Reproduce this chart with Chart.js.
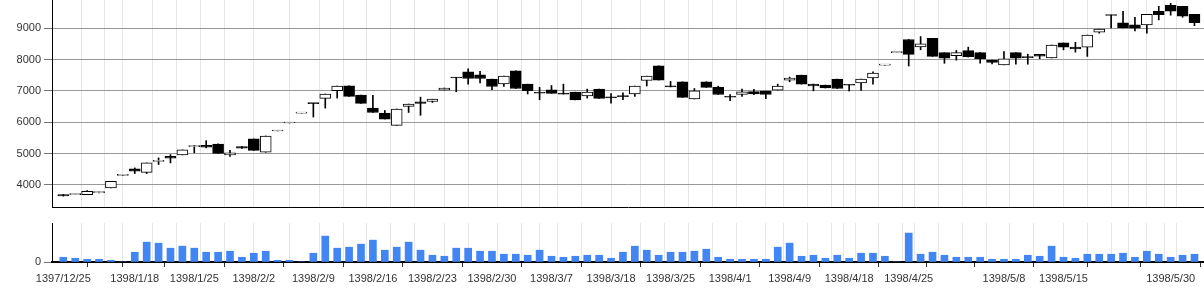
<!DOCTYPE html>
<html>
<head>
<meta charset="utf-8">
<script src="https://cdn.jsdelivr.net/npm/chart.js@4.4.1/dist/chart.umd.min.js"></script>
<style>
html, body { margin: 0; padding: 0; background: #fff; }
#wrap { position: relative; width: 1204px; height: 301px; overflow: hidden; }
#priceBox { position: absolute; left: 0; top: 0; width: 1204px; height: 212px; }
#volBox { position: absolute; left: 0; top: 212px; width: 1204px; height: 89px; }
</style>
</head>
<body>
<div id="wrap">
  <div id="priceBox"><canvas id="priceChart"></canvas></div>
  <div id="volBox"><canvas id="volChart"></canvas></div>
</div>
<script>
// daily candles, one per trading day (index 0 = 1397/12/25)
const opens = [3690,3690,3690,3750,3905,4300,4510,4400,4750,4910, 4955,5220,5260,5305,4955,5220,5465,5040,5720,5975,
  6290,6600,6760,7005,7160,6865,6450,6290,5900,6505, 6650,6665,7025,7430,7610,7510,7375,7220,7640,7215,
  6935,7035,6905,6960,6835,7055,6785,6830,6900,7330, 7800,7160,7290,6740,7290,7120,6805,6886,6980,6995,
  7025,7345,7500,7215,7185,7375,7190,7250,7410,7820, 8220,8640,8400,8675,8220,8125,8285,8220,7980,7825,
  8220,8070,8165,8050,8530,8395,8395,8875,9415,9170, 9105,9105,9540,9730,9700,9445];
const highs = [3695,3690,3820,3770,4115,4300,4540,4700,4860,4965, 5115,5260,5410,5310,5100,5225,5465,5560,5720,5975,
  6290,6600,6900,7155,7160,6865,6855,6375,6420,6580, 6800,6735,7090,7430,7705,7620,7375,7470,7640,7215,
  7110,7170,7215,6960,7055,7055,6910,6940,7150,7470, 7800,7300,7290,7075,7290,7150,6885,7055,7045,6995,
  7215,7440,7500,7215,7185,7375,7190,7375,7610,7820, 8220,8640,8735,8675,8220,8290,8395,8220,7980,8250,
  8220,8170,8165,8465,8530,8550,8780,8970,9415,9535, 9350,9445,9700,9795,9700,9445];
const lows = [3640,3690,3690,3740,3905,4300,4360,4360,4650,4700, 4955,5020,5180,5000,4910,5165,5100,5040,5720,5975,
  6290,6165,6450,6770,6825,6600,6310,6100,5900,6310, 6220,6630,7025,6970,7215,7250,7035,7140,7075,6900,
  6715,6920,6895,6710,6770,6760,6610,6715,6820,7155, 7345,7125,6790,6740,7110,6885,6685,6820,6875,6750,
  7025,7290,7215,7000,7090,7075,6995,7015,7215,7820, 8220,7795,8310,8100,7880,7980,8080,7880,7860,7825,
  7850,7850,8025,8050,8310,8235,8100,8840,9010,9010, 8915,8840,9265,9415,9350,9080];
const closes = [3645,3690,3790,3750,4115,4300,4435,4700,4755,4850, 5115,5220,5200,5005,5020,5170,5100,5560,5720,5975,
  6290,6590,6900,7150,6825,6600,6310,6100,6420,6580, 6600,6735,7090,7410,7395,7395,7140,7470,7075,7005,
  6925,6920,6895,6710,6960,6760,6775,6815,7150,7470, 7345,7125,6790,7000,7110,6885,6795,6970,6900,6885,
  7150,7410,7215,7155,7090,7075,7180,7375,7565,7820, 8220,8165,8500,8100,8040,8220,8095,8030,7905,8025,
  8040,8060,8110,8465,8395,8340,8780,8970,9405,9010, 9000,9445,9435,9540,9380,9180];
const volumes = [4.7,3.7,2.7,2.7,1.7,0,9.7,19.7,18.7,13.7, 15.7,13.7,9.7,9.7,10.7,4.7,8.7,10.7,1.7,1.7,
  0,8.7,25.7,13.7,14.7,17.7,21.7,11.7,14.7,19.7, 11.7,6.7,5.7,13.7,13.7,10.7,10.7,7.7,7.7,6.7,
  11.7,5.7,4.7,5.7,6.7,6.7,3.7,9.7,15.7,11.7, 6.7,9.7,9.7,10.7,12.7,4.7,2.7,2.7,2.7,2.7,
  14.7,18.7,5.7,6.7,3.7,6.7,3.7,8.7,8.7,5.7, 0,28.7,7.7,9.7,6.7,4.7,4.7,4.7,2.7,2.7,
  2.7,6.7,5.7,15.7,4.7,3.7,7.7,7.7,7.7,8.7, 4.7,10.7,7.7,4.7,6.7,7.7];

// axis ticks
const tickDays = [0,4,6,11,16,21,26,31,36,41,46,51,56,61,66,71,74,79,84,88,93];
const tickLabels = ['1397/12/25','','1398/1/18','1398/1/25','1398/2/2','1398/2/9','1398/2/16','1398/2/23',
  '1398/2/30','1398/3/7','1398/3/18','1398/3/25','1398/4/1','1398/4/9','1398/4/18','1398/4/25','',
  '1398/5/8','1398/5/15','','1398/5/30'];
const gridDays = [0,3,4,6,9,10,13,14,18,20,23,24,27,28,31,33,35,38,39,41,42,45,47,50,51,54,55,58,60,61,
  64,65,66,67,70,71,72,75,76,79,80,83,85,87,89,90,92,93];
const priceTicks = [4000,5000,6000,7000,8000,9000];

const xMin = -0.95;
const xMax = 95.8;
const dayIdx = opens.map((o, i) => i);

Chart.defaults.font.family = 'Arial, "Liberation Sans", sans-serif';
Chart.defaults.font.size = 11;
Chart.defaults.color = '#333';

const fixYAxis = (scale) => { scale.width = 52; scale.paddingTop = 0; scale.paddingBottom = 0; };

const priceChart = new Chart(document.getElementById('priceChart'), {
    type: 'bar',
    data: {
        datasets: [{
            label: 'body',
            data: dayIdx.map(i => ({x: i, y: [opens[i], closes[i]]})),
            backgroundColor: dayIdx.map(i => closes[i] < opens[i] ? '#000' : '#fff'),
            borderColor: '#000',
            borderWidth: 1,
            borderSkipped: false,
            barThickness: 11,
            minBarLength: 1,
            grouped: false,
            order: 0
        }, {
            label: 'wick',
            data: dayIdx.map(i => ({x: i, y: [lows[i], highs[i]]})),
            backgroundColor: '#000',
            barThickness: 1,
            grouped: false,
            order: 1
        }]
    },
    options: {
        responsive: true,
        maintainAspectRatio: false,
        animation: false,
        layout: { padding: 0, autoPadding: false },
        plugins: { legend: { display: false }, tooltip: { enabled: false } },
        scales: {
            x: {
                type: 'linear', min: xMin, max: xMax, offset: false,
                afterBuildTicks: s => { s.ticks = gridDays.map(v => ({value: v})); },
                afterFit: s => { s.height = 5; s.paddingLeft = 0; s.paddingRight = 0; },
                ticks: { display: false },
                grid: { color: '#e6e6e6', drawTicks: false },
                border: { color: '#000', width: 1 }
            },
            y: {
                min: 3293, max: 9900,
                afterBuildTicks: s => { s.ticks = priceTicks.map(v => ({value: v})); },
                afterFit: fixYAxis,
                ticks: { padding: 3, color: '#333', callback: v => String(v) },
                grid: { color: '#999', tickLength: 8, tickColor: '#777' },
                border: { color: '#000', width: 1 }
            }
        }
    }
});

const volChart = new Chart(document.getElementById('volChart'), {
    type: 'bar',
    data: {
        datasets: [{
            label: 'volume',
            data: dayIdx.map(i => ({x: i, y: volumes[i]})),
            backgroundColor: '#4285f4',
            barThickness: 7,
            xAxisID: 'x',
            yAxisID: 'y'
        }]
    },
    options: {
        responsive: true,
        maintainAspectRatio: false,
        animation: false,
        layout: { padding: { top: 11 }, autoPadding: false },
        plugins: { legend: { display: false }, tooltip: { enabled: false } },
        scales: {
            x: {
                type: 'linear', position: 'bottom', min: xMin, max: xMax, offset: false,
                afterBuildTicks: s => { s.ticks = tickDays.map(v => ({value: v})); },
                afterFit: s => { s.height = 39; s.paddingLeft = 0; s.paddingRight = 0; },
                ticks: {
                    autoSkip: false, maxRotation: 0, minRotation: 0, padding: 5, color: '#333',
                    callback: v => tickLabels[tickDays.indexOf(v)]
                },
                grid: { drawOnChartArea: false, tickLength: 5, tickColor: '#333' },
                border: { color: '#000', width: 2 }
            },
            xg: {
                type: 'linear', position: 'bottom', min: xMin, max: xMax, offset: false,
                afterBuildTicks: s => { s.ticks = gridDays.map(v => ({value: v})); },
                afterFit: s => { s.height = 0; s.paddingLeft = 0; s.paddingRight = 0; },
                ticks: { display: false },
                grid: { color: '#e6e6e6', drawTicks: false },
                border: { display: false }
            },
            y: {
                min: 0, max: 38.7,
                afterBuildTicks: s => { s.ticks = [{value: 0}]; },
                afterFit: fixYAxis,
                ticks: { padding: 3, color: '#333', callback: v => String(v) },
                grid: { drawOnChartArea: false, tickLength: 8, tickColor: '#777' },
                border: { color: '#000', width: 1 }
            }
        }
    }
});
</script>
</body>
</html>
